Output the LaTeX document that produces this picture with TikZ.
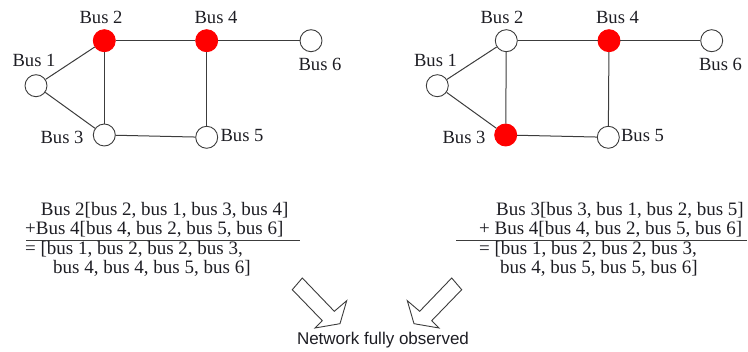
\documentclass[tikz,border=0pt]{standalone}
\usepackage{fontspec}
\setmainfont{Liberation Serif}
\newfontfamily\labelsans{Liberation Sans}
\definecolor{ink}{RGB}{30,30,36}
\definecolor{wire}{RGB}{60,60,60}
\definecolor{hot}{RGB}{255,0,0}
\tikzset{
  bus/.style={circle, draw=wire, line width=0.9pt, fill=white, minimum size=22pt, inner sep=0pt},
  pmu/.style={bus, draw=hot, fill=hot},
  line/.style={draw=wire, line width=1pt},
  buslabel/.style={anchor=base, inner sep=0pt, text=ink, font=\fontsize{18.6}{20}\selectfont},
  eqtext/.style={anchor=base west, inner sep=0pt, text=ink, font=\fontsize{19}{21}\selectfont},
  rule/.style={draw=wire, line width=0.9pt},
  blockarrow/.style={draw=wire, line width=0.9pt, line join=miter, fill=white},
  note/.style={anchor=base, inner sep=0pt, text=ink, font=\labelsans\fontsize{17}{19}\selectfont}
}
\begin{document}
\begin{tikzpicture}[x=1pt, y=-1pt]
\useasboundingbox (0,0) rectangle (748,352);

% ---- left network: PMUs at buses 2 and 4
\node[bus] (L1) at (36,85.7) {};
\node[pmu] (L2) at (104.3,40.7) {};
\node[bus] (L3) at (104.3,135) {};
\node[pmu] (L4) at (206.7,40.7) {};
\node[bus] (L5) at (206.7,137.3) {};
\node[bus] (L6) at (311,40.7) {};
\draw[line] (L2) -- (L4);
\draw[line] (L4) -- (L6);
\draw[line] (L1) -- (L2);
\draw[line] (L1) -- (L3);
\draw[line] (L2) -- (L3);
\draw[line] (L3) -- (L5);
\draw[line] (L4) -- (L5);
\node[buslabel] (L1t) at (34,66.7) {Bus 1};
\node[buslabel] (L2t) at (101,23.3) {Bus 2};
\node[buslabel] (L3t) at (62,144) {Bus 3};
\node[buslabel] (L4t) at (216,23.3) {Bus 4};
\node[buslabel] (L5t) at (242,141.7) {Bus 5};
\node[buslabel] (L6t) at (320,71) {Bus 6};

% ---- right network: PMUs at buses 3 and 4
\node[bus] (R1) at (437.3,85.7) {};
\node[bus] (R2) at (506.3,40.7) {};
\node[pmu] (R3) at (505.7,135) {};
\node[pmu] (R4) at (609,40.7) {};
\node[bus] (R5) at (608.3,137.3) {};
\node[bus] (R6) at (711.7,40.7) {};
\draw[line] (R2) -- (R4);
\draw[line] (R4) -- (R6);
\draw[line] (R1) -- (R2);
\draw[line] (R1) -- (R3);
\draw[line] (R2) -- (R3);
\draw[line] (R3) -- (R5);
\draw[line] (R4) -- (R5);
\node[buslabel] (R1t) at (435.5,66.7) {Bus 1};
\node[buslabel] (R2t) at (502,23.3) {Bus 2};
\node[buslabel] (R3t) at (464,144) {Bus 3};
\node[buslabel] (R4t) at (617.5,23.3) {Bus 4};
\node[buslabel] (R5t) at (642.5,141.7) {Bus 5};
\node[buslabel] (R6t) at (720.5,71) {Bus 6};

% ---- observability sums
\node[eqtext] (La) at (40.7,215.5) {Bus 2[bus 2, bus 1, bus 3, bus 4]};
\node[eqtext] (Lb) at (25,234.5) {+Bus 4[bus 4, bus 2, bus 5, bus 6]};
\draw[rule] (26,240.5) -- (300,240.5);
\node[eqtext] (Lc) at (25,254.5) {= [bus 1, bus 2, bus 2, bus 3,};
\node[eqtext] (Ld) at (53,274) {bus 4, bus 4, bus 5, bus 6]};

\node[eqtext] (Ra) at (496,215.5) {Bus 3[bus 3, bus 1, bus 2, bus 5]};
\node[eqtext] (Rb) at (479,234.5) {+ Bus 4[bus 4, bus 2, bus 5, bus 6]};
\draw[rule] (456,240.5) -- (747,240.5);
\node[eqtext] (Rc) at (479,254.5) {= [bus 1, bus 2, bus 2, bus 3,};
\node[eqtext] (Rd) at (500,274) {bus 4, bus 5, bus 5, bus 6]};

% ---- outlined block arrows towards the conclusion
\draw[blockarrow] (302.3,278) -- (334.3,311.3) -- (346.7,300.7) -- (340,323.7)
  -- (315,328) -- (322.3,320.7) -- (292.3,289.7) -- cycle;
\draw[blockarrow] (451.7,278) -- (419.7,311.3) -- (407.3,300.7) -- (414,323.7)
  -- (439,328) -- (431.7,320.7) -- (461.7,289.7) -- cycle;

\node[note] (obs) at (383,345) {Network fully observed};
\end{tikzpicture}
\end{document}
